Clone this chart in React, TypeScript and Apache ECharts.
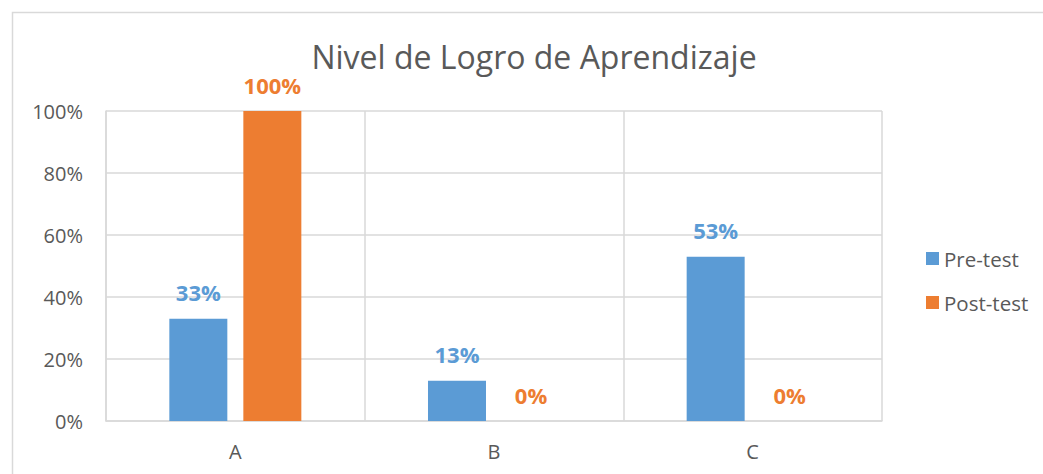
import React, { useEffect, useRef } from "react";
import * as echarts from "echarts";

const categories = ["A", "B", "C"];
const preTest = [33, 13, 53];
const postTest = [100, 0, 0];
const seriesNames = ["Pre-test", "Post-test"];
const titleText = "Nivel de Logro de Aprendizaje";

const FONT = "'Open Sans', 'Noto Sans', sans-serif";
const GRAY = "#595959";
const LINE = "#D9D9D9";
const BLUE = "#5B9BD5";
const ORANGE = "#ED7D31";

export default function App() {
  const ref = useRef<HTMLDivElement>(null);
  useEffect(() => {
    if (!ref.current) return;
    const chart = echarts.init(ref.current, undefined, { renderer: "svg" });
    const labelStyle = (color: string) => ({
      show: true,
      position: "top" as const,
      distance: 15,
      formatter: "{c}%",
      color,
      fontFamily: FONT,
      fontWeight: "bold" as const,
      fontSize: 22,
      lineHeight: 23,
    });
    chart.setOption({
      animation: false,
      backgroundColor: "#ffffff",
      textStyle: { fontFamily: FONT },
      graphic: [
        {
          type: "rect",
          shape: { x: 12.5, y: 12.5, width: 1100, height: 600 },
          style: { fill: "none", stroke: LINE, lineWidth: 1.5 },
          silent: true,
        },
        {
          type: "text",
          x: 534,
          y: 56,
          style: {
            text: titleText,
            fill: GRAY,
            font: `32px ${FONT}`,
            textAlign: "center",
            textVerticalAlign: "middle",
          },
        },
      ],
      legend: {
        orient: "vertical",
        left: 921,
        top: 243,
        itemWidth: 13,
        itemHeight: 13,
        itemGap: 23,
        icon: "rect",
        textStyle: { color: GRAY, fontSize: 20.5, lineHeight: 21, fontFamily: FONT },
        data: seriesNames,
      },
      grid: { left: 106, top: 111, right: 161, bottom: 53, containLabel: false },
      xAxis: {
        type: "category",
        data: categories,
        axisLine: { show: true, lineStyle: { color: LINE, width: 1.5 } },
        axisTick: { show: false },
        splitLine: { show: true, lineStyle: { color: LINE, width: 1.5 } },
        axisLabel: { color: GRAY, fontSize: 20, fontFamily: FONT, margin: 20 },
      },
      yAxis: {
        type: "value",
        min: 0,
        max: 100,
        interval: 20,
        axisLine: { show: true, lineStyle: { color: LINE, width: 1.5 } },
        axisTick: { show: false },
        splitLine: { show: true, lineStyle: { color: LINE, width: 1.5 } },
        axisLabel: { color: GRAY, fontSize: 20, fontFamily: FONT, margin: 23, formatter: "{value}%" },
      },
      series: [
        {
          name: seriesNames[0],
          type: "bar",
          data: preTest,
          barWidth: 58,
          barGap: "27.6%",
          itemStyle: { color: BLUE },
          label: labelStyle(BLUE),
        },
        {
          name: seriesNames[1],
          type: "bar",
          data: postTest,
          barWidth: 58,
          barGap: "27.6%",
          itemStyle: { color: ORANGE },
          label: labelStyle(ORANGE),
        },
      ],
    });
    return () => chart.dispose();
  }, []);
  return (
    <div
      ref={ref}
      style={{ position: "fixed", left: 0, top: 0, width: 1043, height: 474 }}
    />
  );
}
